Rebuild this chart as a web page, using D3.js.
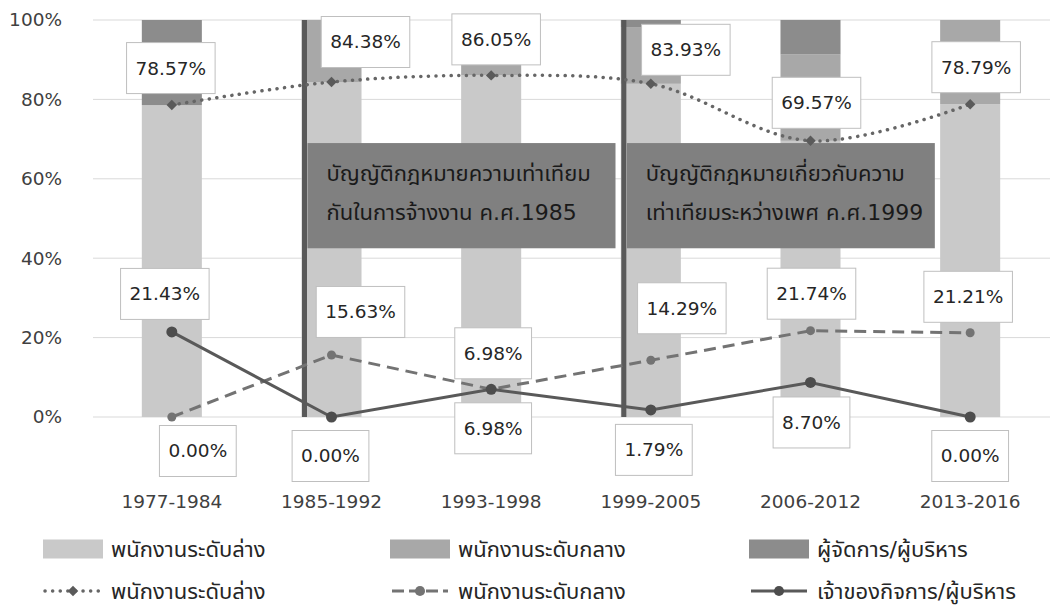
<!DOCTYPE html>
<html>
<head>
<meta charset="utf-8">
<script src="https://cdn.jsdelivr.net/npm/d3@7"></script>
<style>
  body { margin: 0; background: #fff; }
  svg { display: block; font-family: "DejaVu Sans", "Noto Sans Thai", "Noto Sans", sans-serif; }
</style>
</head>
<body>
<svg id="chart" width="1051" height="609"></svg>
<script>
// data
var categories = ["1977-1984", "1985-1992", "1993-1998", "1999-2005", "2006-2012", "2013-2016"];
var lowerStaff = [78.57, 84.38, 86.05, 83.93, 69.57, 78.79];
var midStaff   = [0.00, 15.63, 6.98, 14.29, 21.74, 21.21];
var managers   = [21.43, 0.00, 6.98, 1.79, 8.70, 0.00];
var yTicks = [0, 20, 40, 60, 80, 100];

var barNames  = ["พนักงานระดับล่าง", "พนักงานระดับกลาง", "ผู้จัดการ/ผู้บริหาร"];
var lineNames = ["พนักงานระดับล่าง", "พนักงานระดับกลาง", "เจ้าของกิจการ/ผู้บริหาร"];

var lawAt = ["1985-1992", "1999-2005"];
var lawText = [
  ["บัญญัติกฎหมายความเท่าเทียม", "กันในการจ้างงาน ค.ศ.1985"],
  ["บัญญัติกฎหมายเกี่ยวกับความ", "เท่าเทียมระหว่างเพศ ค.ศ.1999"]
];

// label nudges (px) so boxes sit where they were placed
var lowerOff = [[-1, -37], [34, -40], [5, -36], [35, -34], [6, -38], [6, -37]];
var midOff   = [[26, 34], [29, -43], [2, -36], [31, -52], [1, -37], [-2, -36]];
var mgrOff   = [[-7, -38], [-1, 39], [2, 39], [3, 40], [1, 40], [0, 39]];

var barColors = ["#c9c9c9", "#a8a8a8", "#8c8c8c"];

var svg = d3.select("#chart");

var x = d3.scaleBand()
  .domain(categories)
  .range([92, 1050])
  .paddingInner(0.624)
  .paddingOuter(0.312);
var cx = function(c) { return x(c) + x.bandwidth() / 2; };

var y = d3.scaleLinear().domain([0, 100]).range([417, 20]);

// gridlines + y labels
svg.append("g").selectAll("line")
  .data(yTicks)
  .enter().append("line")
    .attr("x1", 93).attr("x2", 1050)
    .attr("y1", function(d) { return y(d); })
    .attr("y2", function(d) { return y(d); })
    .attr("stroke", "#d9d9d9")
    .attr("stroke-width", 1);

svg.append("g").selectAll("text")
  .data(yTicks)
  .enter().append("text")
    .attr("x", 62)
    .attr("y", function(d) { return y(d); })
    .attr("dy", "0.35em")
    .attr("text-anchor", "end")
    .style("font-size", "18.5px")
    .style("fill", "#404040")
    .text(function(d) { return d + "%"; });

// stacked bars
var rows = categories.map(function(c, i) {
  return { cat: c, a: lowerStaff[i], b: midStaff[i], c: managers[i] };
});
var stack = d3.stack().keys(["a", "b", "c"])(rows);

svg.append("g").selectAll("g")
  .data(stack)
  .enter().append("g")
    .attr("fill", function(d, i) { return barColors[i]; })
  .selectAll("rect")
  .data(function(d) { return d; })
  .enter().append("rect")
    .attr("x", function(d) { return x(d.data.cat); })
    .attr("width", x.bandwidth())
    .attr("y", function(d) { return y(d[1]); })
    .attr("height", function(d) { return y(d[0]) - y(d[1]); });

// x labels
svg.append("g").selectAll("text")
  .data(categories)
  .enter().append("text")
    .attr("x", function(d) { return cx(d); })
    .attr("y", 502)
    .attr("dy", "0.35em")
    .attr("text-anchor", "middle")
    .style("font-size", "18.5px")
    .style("fill", "#404040")
    .text(function(d) { return d; });

// law markers: vertical line + grey note box
var law = svg.append("g").selectAll("g")
  .data(lawAt)
  .enter().append("g");

law.append("line")
  .attr("x1", function(d) { return cx(d) - 27; })
  .attr("x2", function(d) { return cx(d) - 27; })
  .attr("y1", y(100)).attr("y2", y(0))
  .attr("stroke", "#595959")
  .attr("stroke-width", 5);

law.append("rect")
  .attr("x", function(d) { return cx(d) - 24; })
  .attr("y", y(69))
  .attr("width", 308)
  .attr("height", y(42.5) - y(69))
  .attr("fill", "#808080");

law.each(function(d, i) {
  d3.select(this).selectAll("text")
    .data(lawText[i])
    .enter().append("text")
      .attr("x", cx(d) - 5)
      .attr("y", function(t, j) { return y(69) + 30 + j * 39; })
      .attr("dy", "0.35em")
      .style("font-size", "22px")
      .style("fill", "#1a1a1a")
      .text(function(t) { return t; });
});

// lines
var pts = function(vals) {
  return vals.map(function(v, i) { return [cx(categories[i]), y(v)]; });
};

svg.append("path")
  .attr("d", d3.line().curve(d3.curveCatmullRom.alpha(0.5))(pts(lowerStaff)))
  .attr("fill", "none")
  .attr("stroke", "#666")
  .attr("stroke-width", 3.5)
  .attr("stroke-linecap", "round")
  .attr("stroke-dasharray", "0.1 7.5");

svg.append("path")
  .attr("d", d3.line()(pts(midStaff)))
  .attr("fill", "none")
  .attr("stroke", "#737373")
  .attr("stroke-width", 3)
  .attr("stroke-dasharray", "12 7");

svg.append("path")
  .attr("d", d3.line()(pts(managers)))
  .attr("fill", "none")
  .attr("stroke", "#595959")
  .attr("stroke-width", 3);

// markers
svg.append("g").selectAll("path")
  .data(pts(lowerStaff))
  .enter().append("path")
    .attr("transform", function(d) { return "translate(" + d[0] + "," + d[1] + ")"; })
    .attr("d", d3.symbol().type(d3.symbolDiamond2).size(70))
    .attr("fill", "#5a5a5a");

svg.append("g").selectAll("circle")
  .data(pts(midStaff))
  .enter().append("circle")
    .attr("cx", function(d) { return d[0]; })
    .attr("cy", function(d) { return d[1]; })
    .attr("r", 4.5)
    .attr("fill", "#737373");

svg.append("g").selectAll("circle")
  .data(pts(managers))
  .enter().append("circle")
    .attr("cx", function(d) { return d[0]; })
    .attr("cy", function(d) { return d[1]; })
    .attr("r", 5.5)
    .attr("fill", "#4d4d4d");

// data labels in white boxes
function addLabels(vals, offs) {
  var g = svg.append("g").selectAll("g")
    .data(vals)
    .enter().append("g")
      .attr("transform", function(d, i) {
        return "translate(" + (cx(categories[i]) + offs[i][0]) + "," + (y(d) + offs[i][1]) + ")";
      });
  var rect = g.append("rect")
    .attr("fill", "#fff")
    .attr("stroke", "#bfbfbf")
    .attr("stroke-width", 1);
  var txt = g.append("text")
    .attr("text-anchor", "middle")
    .attr("dy", "0.35em")
    .style("font-size", "18.5px")
    .style("fill", "#262626")
    .text(function(d) { return d.toFixed(2) + "%"; });
  txt.each(function(d, i) {
    var w = this.getComputedTextLength() + 18;
    d3.select(rect.nodes()[i])
      .attr("x", -w / 2).attr("y", -25.5)
      .attr("width", w).attr("height", 51);
  });
}
addLabels(lowerStaff, lowerOff);
addLabels(midStaff, midOff);
addLabels(managers, mgrOff);

// legend
var legX = [43, 390, 749];
var row1 = svg.append("g").selectAll("g")
  .data(barNames)
  .enter().append("g")
    .attr("transform", function(d, i) { return "translate(" + legX[i] + ",549)"; });
row1.append("rect")
  .attr("x", 0).attr("y", -9.5)
  .attr("width", 60).attr("height", 19)
  .attr("fill", function(d, i) { return barColors[i]; });
row1.append("text")
  .attr("x", 68).attr("dy", "0.35em")
  .style("font-size", "22px")
  .style("fill", "#262626")
  .text(function(d) { return d; });

var row2 = svg.append("g").selectAll("g")
  .data(lineNames)
  .enter().append("g")
    .attr("transform", function(d, i) { return "translate(" + legX[i] + ",591)"; });
row2.append("line")
  .attr("x1", 2).attr("x2", 58)
  .attr("stroke", function(d, i) { return ["#666", "#737373", "#595959"][i]; })
  .attr("stroke-width", function(d, i) { return i === 0 ? 3.5 : 3; })
  .attr("stroke-linecap", function(d, i) { return i === 0 ? "round" : "butt"; })
  .attr("stroke-dasharray", function(d, i) { return ["0.1 7.5", "12 5", null][i]; });
row2.append("path")
  .attr("transform", "translate(30,0)")
  .attr("d", function(d, i) {
    return d3.symbol().type(i === 0 ? d3.symbolDiamond2 : d3.symbolCircle).size(i === 0 ? 70 : 80)();
  })
  .attr("fill", function(d, i) { return ["#5a5a5a", "#737373", "#4d4d4d"][i]; });
row2.append("text")
  .attr("x", 68).attr("dy", "0.35em")
  .style("font-size", "22px")
  .style("fill", "#262626")
  .text(function(d) { return d; });
</script>
</body>
</html>
